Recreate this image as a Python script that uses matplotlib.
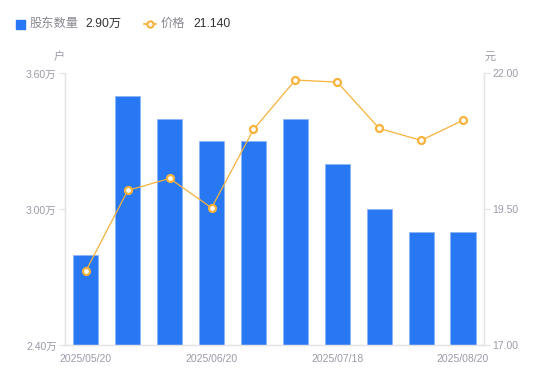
import matplotlib
matplotlib.use('Agg')
import matplotlib.pyplot as plt
from matplotlib.lines import Line2D
import numpy as np

plt.rcParams['font.family'] = ['Liberation Sans', 'Noto Sans CJK SC', 'DejaVu Sans']

holders = [2.80, 3.50, 3.40, 3.30, 3.30, 3.40, 3.20, 3.00, 2.90, 2.90]   # 万户
prices = [18.37, 19.85, 20.07, 19.53, 20.97, 21.88, 21.84, 20.99, 20.77, 21.14]
date_labels = ['2025/05/20', '2025/06/20', '2025/07/18', '2025/08/20']
label_idx = [0, 3, 6, 9]
left_ticks = [2.40, 3.00, 3.60]
right_ticks = [17.00, 19.50, 22.00]

bar_color = '#2878F3'
line_color = '#F7B23B'
tick_color = '#9A9AAA'
axis_color = '#E3E3E6'

fig = plt.figure(figsize=(5.5, 3.81), dpi=100)
ax = fig.add_axes([0.118, 0.0932, 0.762, 0.714])
ax2 = ax.twinx()

x = np.arange(len(holders))
ax.bar(x, holders, width=0.6, color=bar_color, edgecolor='#8DB6F7', linewidth=0.6, zorder=2)
ax.set_xlim(-0.5, len(holders) - 0.5)
ax.set_ylim(2.40, 3.60)
ax.set_yticks(left_ticks)
ax.set_yticklabels([f'{v:.2f}万' for v in left_ticks])

ax2.plot(x, prices, color=line_color, linewidth=0.9, marker='o', markersize=5,
         markerfacecolor='white', markeredgecolor=line_color, markeredgewidth=1.6, zorder=3)
ax2.set_ylim(17.0, 22.0)
ax2.set_yticks(right_ticks)
ax2.set_yticklabels([f'{v:.2f}' for v in right_ticks])

ax.set_xticks(label_idx)
ax.set_xticklabels(date_labels)
ax.tick_params(axis='x', length=0, pad=6, labelsize=7.5, colors=tick_color)

for a in (ax, ax2):
    a.tick_params(axis='y', length=4, width=0.8, color=axis_color, labelsize=7.5,
                  labelcolor=tick_color, pad=2)
    a.spines['top'].set_visible(False)
    for s in ('left', 'right', 'bottom'):
        a.spines[s].set_color(axis_color)
        a.spines[s].set_linewidth(0.9)
ax2.set_zorder(ax.get_zorder() + 1)
ax2.patch.set_visible(False)

# unit labels
fig.text(59 / 550, 1 - 57 / 381, '户', fontsize=8, color=tick_color, ha='center', va='center')
fig.text(490 / 550, 1 - 57 / 381, '元', fontsize=8, color=tick_color, ha='center', va='center')

# legend row
ly = 1 - 24 / 381
fig.patches.append(plt.Rectangle((16 / 550, ly - 4.5 / 381), 9 / 550, 9 / 381,
                                 transform=fig.transFigure, color=bar_color, figure=fig))
fig.text(30 / 550, ly, '股东数量', fontsize=8.8, color='#888890', va='center')
fig.text(85 / 550, ly, '2.90万', fontsize=8.8, color='#333333', va='center')
fig.add_artist(Line2D([144 / 550, 156 / 550], [ly, ly], transform=fig.transFigure,
                      color=line_color, linewidth=1.2))
fig.add_artist(Line2D([150 / 550], [ly], transform=fig.transFigure, marker='o', markersize=4.5,
                      markerfacecolor='white', markeredgecolor=line_color, markeredgewidth=1.5))
fig.text(161 / 550, ly, '价格', fontsize=8.8, color='#888890', va='center')
fig.text(193 / 550, ly, '21.140', fontsize=8.8, color='#333333', va='center')

fig.savefig('out.png', dpi=100)
